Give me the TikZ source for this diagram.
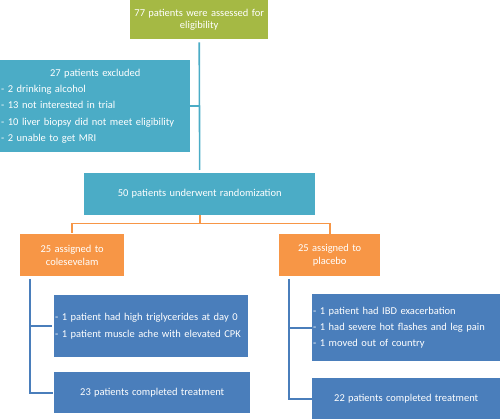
\documentclass[tikz,border=0pt]{standalone}
\usepackage{fontspec}
\setmainfont{Carlito}[WordSpace={1.4,0.5,0.3}]
\definecolor{cgreen}{HTML}{A5B944}
\definecolor{cteal}{HTML}{4BACC6}
\definecolor{corange}{HTML}{F79646}
\definecolor{cblue}{HTML}{4A7EBB}
\begin{document}
\begin{tikzpicture}[x=1pt,y=-1pt,
  box/.style={anchor=north west, inner sep=0pt, text=white, align=center,
    font=\fontsize{10.5}{12.5}\selectfont},
  listbox/.style={box, align=left, font=\fontsize{10.5}{16.4}\selectfont},
  tline/.style={draw=cteal, line width=1.6pt},
  oline/.style={draw=corange, line width=1.6pt},
  bline/.style={draw=cblue, line width=1.6pt}]
\useasboundingbox (0,0) rectangle (500,419);

\node[box, fill=cgreen, minimum width=138pt, minimum height=39pt] (top) at (130,0)
  {77 patients were assessed for\\eligibility};
\node[listbox, fill=cteal, minimum width=190pt, minimum height=92pt, text width=188pt] (excl) at (0,60)
  {\makebox[188pt]{27 patients excluded}\\- 2 drinking alcohol\\- 13 not interested in trial\\- 10 liver biopsy did not meet eligibility\\- 2 unable to get MRI};
\node[box, fill=cteal, minimum width=231pt, minimum height=42pt] (rand) at (84,173)
  {50 patients underwent randomization};
\node[box, fill=corange, minimum width=104pt, minimum height=42pt] (col) at (20,234)
  {25 assigned to\\colesevelam};
\node[box, fill=corange, minimum width=101pt, minimum height=42pt] (pla) at (279,234)
  {25 assigned to\\placebo};
\node[listbox, fill=cblue, minimum width=194pt, minimum height=62pt, text width=192pt] (lc1) at (54,295)
  {- 1 patient had high triglycerides at day 0\\- 1 patient muscle ache with elevated CPK};
\node[box, fill=cblue, minimum width=196pt, minimum height=41pt] (lc2) at (54,372)
  {23 patients completed treatment};
\node[listbox, fill=cblue, minimum width=188pt, minimum height=67pt, text width=186pt] (rc1) at (312,294)
  {- 1 patient had IBD exacerbation\\- 1 had severe hot flashes and leg pain\\- 1 moved out of country};
\node[box, fill=cblue, minimum width=188pt, minimum height=41pt] (rc2) at (312,378)
  {22 patients completed treatment};

\draw[tline, shorten <=3pt, shorten >=3pt] (top.south) -- (rand.north);
\draw[tline] (excl.east) -- (excl.east -| top.south);

\draw[oline] (rand.south) -- ++(0,8) coordinate (om);
\draw[oline, shorten <=1pt] (col.north) |- (om) -| (pla.north);

\coordinate (lt) at (30,279);
\coordinate (rt) at (289,279);
\draw[bline, shorten >=1pt] (lt) |- (lc2.west);
\draw[bline, shorten <=2pt] (lc1.west) -- (lc1.west -| lt);
\draw[bline] (rt) |- (rc2.west);
\draw[bline] (rc1.west) -- (rc1.west -| rt);
\end{tikzpicture}
\end{document}
